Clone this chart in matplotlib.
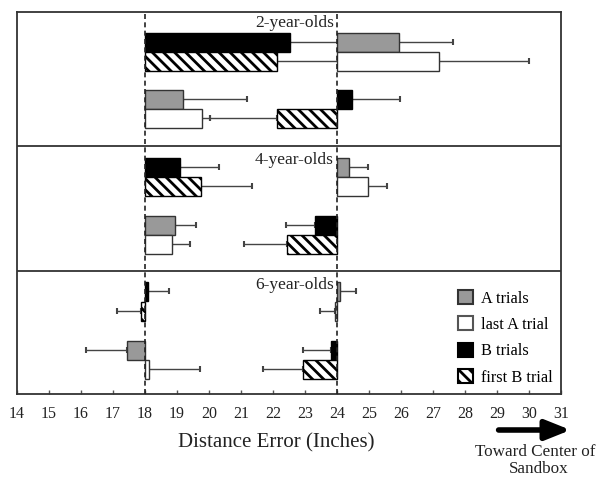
import numpy as np
import matplotlib
matplotlib.use('Agg')
import matplotlib.pyplot as plt
from matplotlib.patches import Patch

plt.rcParams['font.family'] = ['Liberation Serif', 'DejaVu Serif']
plt.rcParams['hatch.linewidth'] = 2.0

# mean searching position (inches) and one-sided error, per age group
# upper half: A hidden at 24, B at 18 -- lower half: A at 18, B at 24
ages = ['2-year-olds', '4-year-olds', '6-year-olds']

a_trials_up = [25.93, 24.37, 24.10]
a_trials_up_err = [1.71, 0.60, 0.50]
last_a_up = [27.20, 24.97, 23.95]
last_a_up_err = [2.80, 0.59, 0.48]
b_trials_up = [22.52, 19.09, 18.08]
b_trials_up_err = [2.36, 1.21, 0.68]
first_b_up = [22.11, 19.74, 17.88]
first_b_up_err = [2.77, 1.59, 0.76]

a_trials_lo = [19.18, 18.93, 17.44]
a_trials_lo_err = [2.02, 0.66, 1.29]
last_a_lo = [19.78, 18.84, 18.12]
last_a_lo_err = [0.24, 0.56, 1.61]
b_trials_lo = [24.47, 23.31, 23.80]
b_trials_lo_err = [1.49, 0.91, 0.86]
first_b_lo = [22.11, 22.43, 22.95]
first_b_lo_err = [2.09, 1.33, 1.27]

xticks = list(range(14, 32))

# vertical layout in pixel units measured from the top of the frame
panel_edges = [12, 146, 271, 394]
row_tops = [[33, 52, 90, 109], [158, 177, 216, 235], [282, 302, 341, 360]]
label_y = [23, 160, 285]
row_h = 19

styles = {
    'A': dict(facecolor='#999999', edgecolor='#333333', hatch=None),
    'lastA': dict(facecolor='white', edgecolor='#333333', hatch=None),
    'B': dict(facecolor='black', edgecolor='black', hatch=None),
    'firstB': dict(facecolor='white', edgecolor='black', hatch='\\\\\\'),
}

fig = plt.figure(figsize=(6.08, 4.82), dpi=100, facecolor='white')
ax = fig.add_axes([17/608, 1-394/482, 544/608, 382/482])


def draw_bar(y, base, value, err, style):
    st = styles[style]
    ax.barh(y, value - base, left=base, height=row_h, align='edge',
            facecolor=st['facecolor'], edgecolor=st['edgecolor'],
            hatch=st['hatch'], linewidth=1.0, zorder=3)
    if value >= base:
        xerr = [[0], [err]]
    else:
        xerr = [[err], [0]]
    ax.errorbar([value], [y + row_h/2], xerr=xerr, fmt='none',
                ecolor='#444444', elinewidth=1.0, capsize=2.5,
                capthick=1.5, zorder=2)


for i in range(3):
    r = row_tops[i]
    draw_bar(r[0], 18, b_trials_up[i], b_trials_up_err[i], 'B')
    draw_bar(r[1], 18, first_b_up[i], first_b_up_err[i], 'firstB')
    draw_bar(r[0], 24, a_trials_up[i], a_trials_up_err[i], 'A')
    draw_bar(r[1], 24, last_a_up[i], last_a_up_err[i], 'lastA')
    draw_bar(r[2], 18, a_trials_lo[i], a_trials_lo_err[i], 'A')
    draw_bar(r[3], 18, last_a_lo[i], last_a_lo_err[i], 'lastA')
    draw_bar(r[2], 24, b_trials_lo[i], b_trials_lo_err[i], 'B')
    draw_bar(r[3], 24, first_b_lo[i], first_b_lo_err[i], 'firstB')
    ax.text(23.9, label_y[i], ages[i], ha='right', va='center', fontsize=12.5,
            color='#222222', zorder=5)

for y in panel_edges[1:-1]:
    ax.axhline(y, color='#333333', linewidth=1.3, zorder=4)

for x in (18, 24):
    ax.axvline(x, color='#222222', linewidth=1.2, linestyle=(0, (3, 2)), zorder=4)

ax.set_xlim(14, 31)
ax.set_ylim(panel_edges[-1], panel_edges[0])
ax.set_xticks(xticks)
ax.set_xticklabels([str(t) for t in xticks], fontsize=11.5, color='#222222')
ax.set_yticks([])
ax.tick_params(axis='x', direction='in', length=3, width=1, color='#555555', pad=9)
for s in ax.spines.values():
    s.set_linewidth(1.3)
    s.set_color('#333333')

ax.text(22.1, 443, 'Distance Error (Inches)', ha='center', va='center',
        fontsize=15, color='#222222', clip_on=False)

# arrow and caption pointing toward the sandbox centre
ax.annotate('', xy=(31.3, 430), xytext=(29.05, 430),
            arrowprops=dict(arrowstyle='-|>,head_length=1.5,head_width=0.6',
                            color='black', linewidth=4, shrinkA=0, shrinkB=0),
            annotation_clip=False)
ax.text(30.2, 452, 'Toward Center of', ha='center', va='center',
        fontsize=12.3, color='#222222', clip_on=False)
ax.text(30.3, 469, 'Sandbox', ha='center', va='center',
        fontsize=12.3, color='#222222', clip_on=False)

handles = [
    Patch(facecolor='#999999', edgecolor='#333333', linewidth=1.5, label='A trials'),
    Patch(facecolor='white', edgecolor='#555555', linewidth=1.5, label='last A trial'),
    Patch(facecolor='black', edgecolor='black', linewidth=1.5, label='B trials'),
    Patch(facecolor='white', edgecolor='black', linewidth=1.5, hatch='\\\\\\', label='first B trial'),
]
ax.legend(handles=handles, loc='upper left', bbox_to_anchor=((458-17)/544, (394-290)/382),
          frameon=False, fontsize=11.7, handlelength=0.95, handleheight=0.95,
          handletextpad=0.45, labelspacing=0.6, borderaxespad=0, borderpad=0)

plt.savefig('out.png', dpi=100)
